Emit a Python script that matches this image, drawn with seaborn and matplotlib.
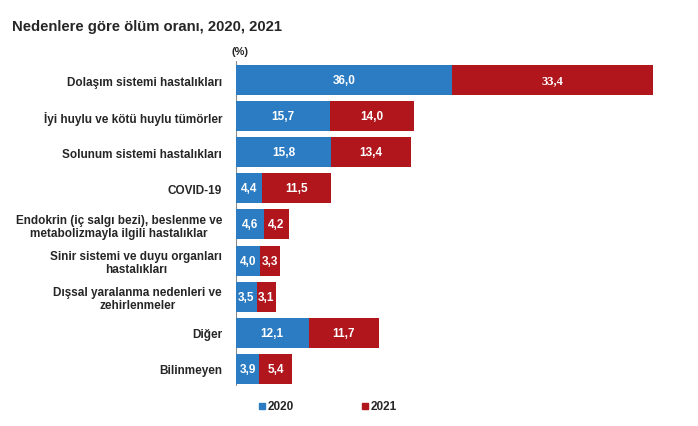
import pandas as pd
import numpy as np
import matplotlib
matplotlib.use("Agg")
import matplotlib.pyplot as plt
import seaborn as sns

nedenler = [
    "Dolaşım sistemi hastalıkları",
    "İyi huylu ve kötü huylu tümörler",
    "Solunum sistemi hastalıkları",
    "COVID-19",
    "Endokrin (iç salgı bezi), beslenme ve\nmetabolizmayla ilgili hastalıklar",
    "Sinir sistemi ve duyu organları\nhastalıkları",
    "Dışsal yaralanma nedenleri ve\nzehirlenmeler",
    "Diğer",
    "Bilinmeyen",
]
oran_2020 = [36.0, 15.7, 15.8, 4.4, 4.6, 4.0, 3.5, 12.1, 3.9]
oran_2021 = [33.4, 14.0, 13.4, 11.5, 4.2, 3.3, 3.1, 11.7, 5.4]

mavi = "#2B7CC3"
kirmizi = "#B0161C"

datos = pd.DataFrame({"neden": nedenler, "y2020": oran_2020, "y2021": oran_2021})
datos["toplam"] = datos["y2020"] + datos["y2021"]

sns.set_style("white")
plt.rcParams["font.family"] = ["Liberation Sans", "DejaVu Sans"]

fig = plt.figure(figsize=(6.98, 4.27), dpi=100)
ax = fig.add_axes([0.338, 0.083, 0.645, 0.778])

# arka: toplam (2021 rengi), on: 2020
sns.barplot(data=datos, y="neden", x="toplam", color=kirmizi, width=0.83,
            orient="h", ax=ax, saturation=1, edgecolor="none")
sns.barplot(data=datos, y="neden", x="y2020", color=mavi, width=0.83,
            orient="h", ax=ax, saturation=1, edgecolor="none")

for i, (a, b) in enumerate(zip(oran_2020, oran_2021)):
    ax.text(a / 2, i, f"{a:.1f}".replace(".", ","), ha="center", va="center",
            color="white", fontsize=8.5, fontweight="bold")
    fam = ["Liberation Serif"] if i == 0 else ["Liberation Sans"]
    ax.text(a + b / 2, i, f"{b:.1f}".replace(".", ","), ha="center", va="center",
            color="white", fontsize=9 if i == 0 else 8.5, fontweight="bold", family=fam)

ax.set_xlim(0, 75)
ax.set_ylim(8.6, -0.6)
ax.set_xlabel("")
ax.set_ylabel("")
ax.set_xticks([])
ax.tick_params(axis="y", length=0, pad=10)
for lbl in ax.get_yticklabels():
    lbl.set_fontsize(8.5)
    lbl.set_fontweight("bold")
    lbl.set_multialignment("center")
    lbl.set_linespacing(1.1)
for s in ["top", "right", "bottom", "left"]:
    ax.spines[s].set_visible(False)
# dikey eksen cizgisi
ax.axvline(0, ymin=0.017, ymax=0.992, color="#888888", lw=0.8, zorder=0)

fig.text(12 / 698, 1 - 27 / 427, "Nedenlere göre ölüm oranı, 2020, 2021",
         fontsize=10.7, fontweight="bold", va="center")
fig.text(240 / 698, 1 - 52 / 427, "(%)", fontsize=8, fontweight="bold",
         ha="center", va="center")

# lejant
fig.patches.append(plt.Rectangle((259 / 698, 1 - 410 / 427), 6 / 698, 6 / 427,
                                 transform=fig.transFigure, color=mavi))
fig.text(268 / 698, 1 - 407 / 427, "2020", fontsize=8.5, fontweight="bold", va="center")
fig.patches.append(plt.Rectangle((362 / 698, 1 - 410 / 427), 6 / 698, 6 / 427,
                                 transform=fig.transFigure, color=kirmizi))
fig.text(371 / 698, 1 - 407 / 427, "2021", fontsize=8.5, fontweight="bold", va="center")

fig.savefig("out.png", dpi=100)
